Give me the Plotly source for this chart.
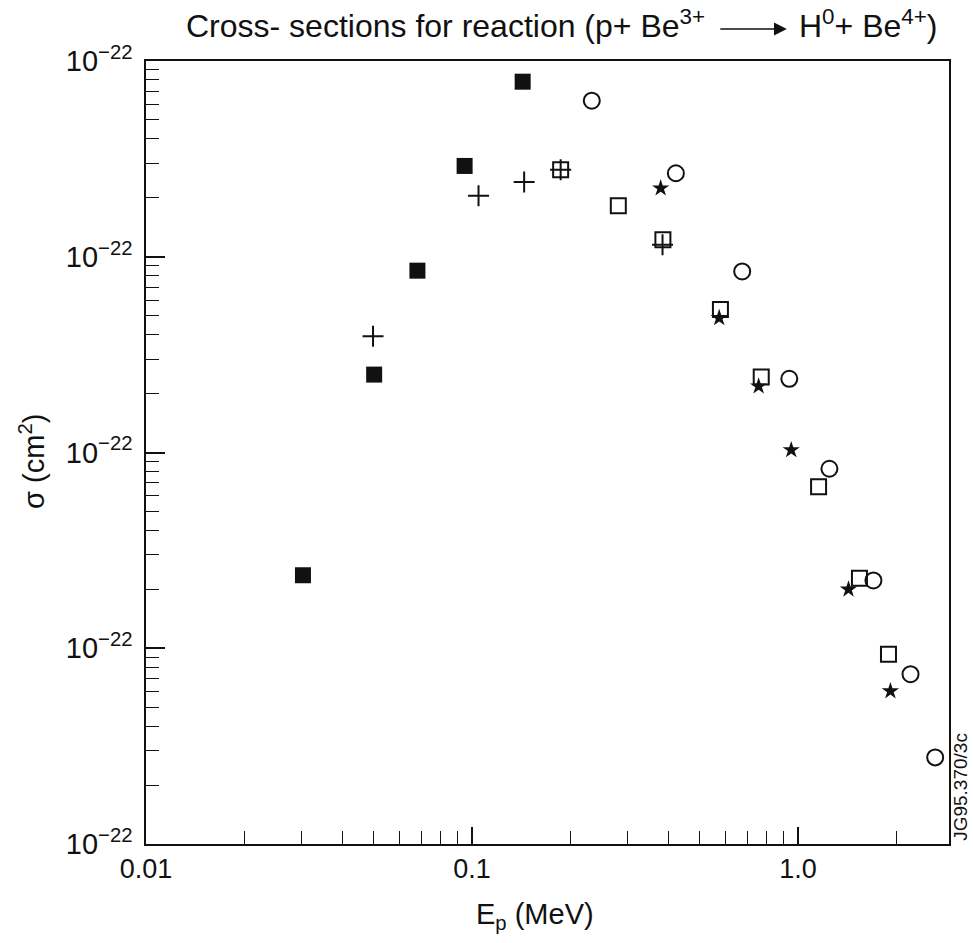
import plotly.graph_objects as go

# Filled squares
fsq_x = [0.0303, 0.0501, 0.068, 0.0949, 0.143]
fsq_y = [2.36e-21, 2.50e-20, 8.49e-20, 2.91e-19, 7.84e-19]
# Plus signs
plus_x = [0.0497, 0.1047, 0.1445, 0.187, 0.384]
plus_y = [3.92e-20, 2.05e-19, 2.41e-19, 2.78e-19, 1.15e-19]
# Open squares
osq_x = [0.187, 0.281, 0.385, 0.578, 0.771, 1.156, 1.543, 1.894]
osq_y = [2.78e-19, 1.82e-19, 1.22e-19, 5.37e-20, 2.43e-20, 6.68e-21, 2.28e-21, 9.32e-22]
# Open circles
circ_x = [0.233, 0.422, 0.674, 0.940, 1.248, 1.703, 2.213, 2.634]
circ_y = [6.27e-19, 2.67e-19, 8.41e-20, 2.38e-20, 8.26e-21, 2.22e-21, 7.37e-22, 2.77e-22]
# Stars
star_x = [0.379, 0.573, 0.757, 0.953, 1.428, 1.920]
star_y = [2.24e-19, 4.87e-20, 2.18e-20, 1.03e-20, 2.00e-21, 6.04e-22]

x_major = [0.01, 0.1, 1.0]
x_major_text = ["0.01", "0.1", "1.0"]
x_minor = [0.02, 0.03, 0.04, 0.05, 0.06, 0.07, 0.08, 0.09,
           0.2, 0.3, 0.4, 0.5, 0.6, 0.7, 0.8, 0.9, 2.0]
y_major = [1e-22, 1e-21, 1e-20, 1e-19, 1e-18]
y_major_text = ["10<sup>−22</sup>"] * 5
y_minor = [m * 10.0 ** e for e in (-22, -21, -20, -19) for m in range(2, 10)]

title_left = "Cross- sections for reaction (p+ Be<sup>3+</sup>"
title_right = "H<sup>0</sup>+ Be<sup>4+</sup>)"

FONT = "Liberation Sans, Arial, Helvetica, sans-serif"
BLACK = "#111111"

fig = go.Figure()
fig.add_trace(go.Scatter(x=fsq_x, y=fsq_y, mode="markers",
                         marker=dict(symbol="square", size=16, color=BLACK,
                                     line=dict(width=0))))
fig.add_trace(go.Scatter(x=osq_x, y=osq_y, mode="markers",
                         marker=dict(symbol="square-open", size=15, color=BLACK,
                                     line=dict(width=2, color=BLACK))))
fig.add_trace(go.Scatter(x=plus_x, y=plus_y, mode="markers",
                         marker=dict(symbol="cross-thin-open", size=15, color=BLACK,
                                     line=dict(width=2, color=BLACK))))
fig.add_trace(go.Scatter(x=circ_x, y=circ_y, mode="markers",
                         marker=dict(symbol="circle-open", size=16, color=BLACK,
                                     line=dict(width=2, color=BLACK))))
fig.add_trace(go.Scatter(x=star_x, y=star_y, mode="markers",
                         marker=dict(symbol="star", size=13, color=BLACK,
                                     line=dict(width=0))))

fig.update_layout(
    width=973, height=943,
    margin=dict(l=146, r=24, t=61, b=99),
    paper_bgcolor="white", plot_bgcolor="white",
    showlegend=False,
    font=dict(family=FONT, size=28, color=BLACK),
)
fig.update_xaxes(
    type="log", range=[-2, 0.463],
    showgrid=False, zeroline=False,
    showline=True, linecolor=BLACK, linewidth=1.5, mirror=True,
    ticks="inside", ticklen=17, tickwidth=1.5, tickcolor=BLACK,
    tickvals=x_major, ticktext=x_major_text,
    tickfont=dict(size=27, family=FONT),
    ticklabelstandoff=0,
    minor=dict(tickvals=x_minor, ticks="inside", ticklen=13, tickwidth=1.2,
               tickcolor=BLACK, showgrid=False),
)
fig.update_yaxes(
    type="log", range=[-22, -18],
    showgrid=False, zeroline=False,
    showline=True, linecolor=BLACK, linewidth=1.5, mirror=True,
    ticks="inside", ticklen=19, tickwidth=1.5, tickcolor=BLACK,
    tickvals=y_major, ticktext=y_major_text,
    tickfont=dict(size=29, family=FONT),
    ticklabelstandoff=6,
    minor=dict(tickvals=y_minor, ticks="inside", ticklen=13, tickwidth=1.2,
               tickcolor=BLACK, showgrid=False),
)

# Title in three pieces: left text, arrow, right text
fig.add_annotation(
    text=title_left,
    xref="paper", yref="paper", x=0.699, y=1.0, yshift=37,
    xanchor="right", yanchor="middle", showarrow=False,
    font=dict(size=32, family=FONT, color=BLACK),
)
fig.add_annotation(
    text="",
    xref="paper", yref="paper", x=0.798, y=1.0, yshift=32,
    ax=-68, ay=0, showarrow=True, arrowhead=2, arrowsize=1.6,
    arrowwidth=1.6, arrowcolor=BLACK, standoff=0, startstandoff=0,
)
fig.add_annotation(
    text=title_right,
    xref="paper", yref="paper", x=0.811, y=1.0, yshift=37,
    xanchor="left", yanchor="middle", showarrow=False,
    font=dict(size=32, family=FONT, color=BLACK),
)
fig.add_annotation(
    text="E<sub>p</sub> (MeV)",
    xref="paper", yref="paper", x=0.484, y=0.0, yshift=-72,
    xanchor="center", yanchor="middle", showarrow=False,
    font=dict(size=29, family=FONT, color=BLACK),
)
fig.add_annotation(
    text="σ (cm<sup>2</sup>)",
    xref="paper", yref="paper", x=0.0, xshift=-114, y=0.488,
    xanchor="center", yanchor="middle", showarrow=False, textangle=-90,
    font=dict(size=29, family=FONT, color=BLACK),
)
fig.add_annotation(
    text="JG95.370/3c",
    xref="paper", yref="paper", x=1.0, xshift=12, y=0.073,
    xanchor="center", yanchor="middle", showarrow=False, textangle=-90,
    font=dict(size=19, family=FONT, color=BLACK),
)

fig.write_html("out.html", config={"displayModeBar": False},
               post_script="document.body.style.margin='0';")
